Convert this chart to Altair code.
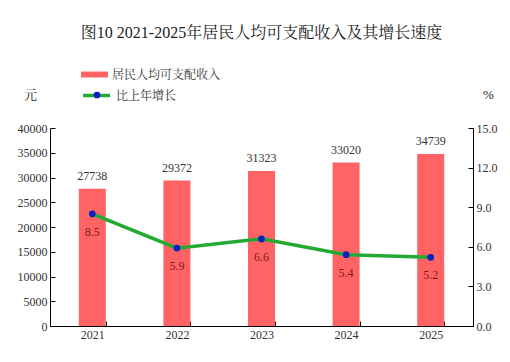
import altair as alt
import pandas as pd

years = ["2021", "2022", "2023", "2024", "2025"]
income = [27738, 29372, 31323, 33020, 34739]
growth = [8.5, 5.9, 6.6, 5.4, 5.2]
bar_name = "居民人均可支配收入"
line_name = "比上年增长"

df = pd.DataFrame({"year": years, "income": income, "growth": growth,
                   "bar": bar_name, "line": line_name, "marker": "point"})

FONT = "Liberation Serif, Noto Serif CJK SC, Noto Sans CJK SC, serif"
RED = "#FF6363"
GREEN = "#22AA33"
BLUE = "#0A1FBF"
TS = {"expr": "-5"}

x = alt.X("year:N", title=None, sort=years,
          scale=alt.Scale(paddingInner=0.68, paddingOuter=0.34),
          axis=alt.Axis(labelAngle=0, ticks=True, tickBand="extent", tickSize=TS,
                        domainColor="#000", tickColor="#000", labelPadding=8,
                        labelFontSize=12, labelColor="#333", grid=False))

yl = alt.Y("income:Q", scale=alt.Scale(domain=[0, 40000], nice=False),
           axis=alt.Axis(values=list(range(0, 40001, 5000)), tickSize=TS, grid=False,
                         format="d", labelOverlap=False,
                         domainColor="#000", tickColor="#000", labelColor="#333",
                         labelFontSize=12, labelPadding=8,
                         title="元", titleAngle=0, titleX=-20, titleY=-27,
                         titleFontSize=13, titleFontWeight="normal", titleColor="#222"))

yr = alt.Y("growth:Q", scale=alt.Scale(domain=[0, 15], nice=False),
           axis=alt.Axis(orient="right", values=[0, 3, 6, 9, 12, 15], format=".1f",
                         tickSize=TS, grid=False, domainColor="#000", tickColor="#000",
                         labelColor="#333", labelFontSize=12, labelPadding=8,
                         labelOverlap=False,
                         title="%", titleAngle=0, titleX=15, titleY=-27,
                         titleFontSize=13, titleFontWeight="normal", titleColor="#222"))

bars = alt.Chart(df).mark_bar(size=27).encode(
    x=x,
    y=yl,
    color=alt.Color("bar:N", scale=alt.Scale(domain=[bar_name], range=[RED]),
                    legend=alt.Legend(title=None, orient="none", legendX=31, legendY=-67,
                                      symbolType="M-1,-0.22H1V0.22H-1Z", symbolSize=729,
                                      symbolStrokeWidth=0, labelFontSize=12, labelOffset=4,
                                      labelColor="#333", padding=0)),
)

bar_text = alt.Chart(df).mark_text(dy=-13, fontSize=12, color="#333", font=FONT).encode(
    x=x,
    y=yl,
    text=alt.Text("income:Q", format="d"),
)

line = alt.Chart(df).mark_line(strokeWidth=3.5).encode(
    x=x,
    y=yr,
    stroke=alt.Stroke("line:N", scale=alt.Scale(domain=[line_name], range=[GREEN]),
                      legend=alt.Legend(title=None, orient="none", legendX=31, legendY=-48,
                                        symbolType="stroke", symbolSize=729,
                                        symbolStrokeWidth=3.5, labelFontSize=12,
                                        labelOffset=4, labelColor="#333", padding=0)),
)

pts = alt.Chart(df).mark_point(filled=True, size=45, opacity=1, color=BLUE).encode(
    x=x,
    y=yr,
    shape=alt.Shape("marker:N", scale=alt.Scale(domain=["point"], range=["circle"]),
                    legend=alt.Legend(title=None, orient="none", legendX=41, legendY=-39,
                                      symbolSize=45, symbolFillColor=BLUE,
                                      symbolStrokeWidth=0, symbolOpacity=1,
                                      labelFontSize=12, labelOffset=4, labelExpr="''",
                                      padding=0)),
)

line_text = alt.Chart(df).mark_text(dy=18, fontSize=12, color="#7a1c1c", font=FONT).encode(
    x=x,
    y=yr,
    text=alt.Text("growth:Q", format=".1f"),
)

left = alt.layer(bars, bar_text)
right = alt.layer(line, pts, line_text)

chart = alt.layer(left, right).resolve_scale(
    y="independent", color="independent", stroke="independent", shape="independent"
).properties(
    width=423, height=198,
    autosize=alt.AutoSizeParams(type="none"),
    padding={"left": 42, "top": 120, "right": 29, "bottom": 28},
    title=alt.TitleParams("图10\u00a02021-2025年居民人均可支配收入及其增长速度", fontSize=16,
                          fontWeight="normal", color="#222", anchor="middle",
                          offset=20, font=FONT),
).configure(font=FONT).configure_view(stroke=None).configure_axis(
    labelFont=FONT, titleFont=FONT
).configure_legend(labelFont=FONT)

chart.save("out.html", embed_options={"renderer": "svg", "actions": False})
